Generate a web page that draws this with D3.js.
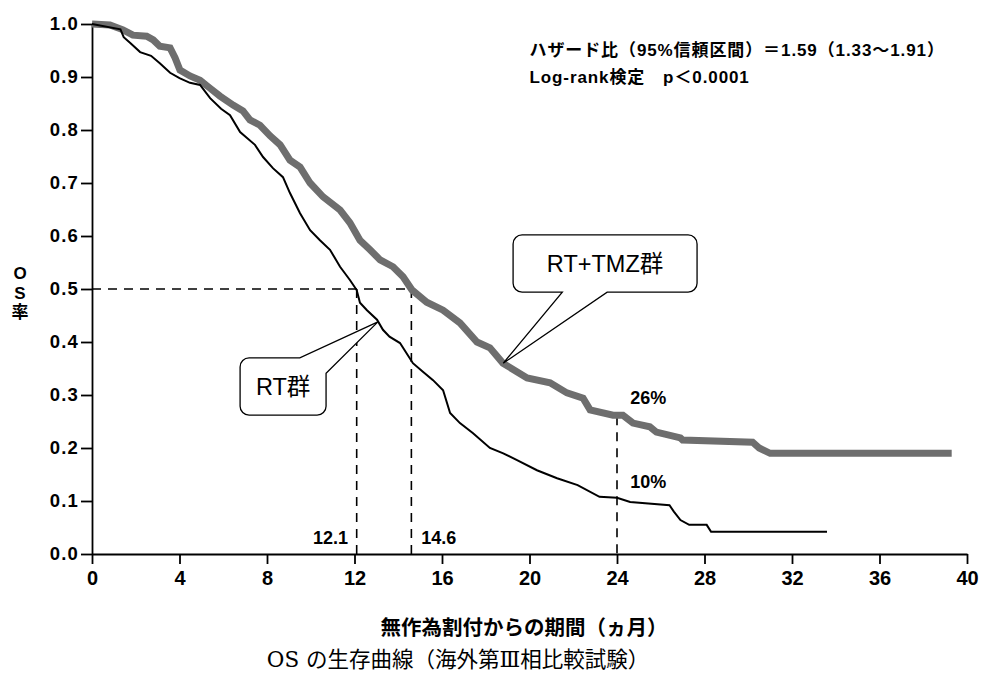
<!DOCTYPE html>
<html>
<head>
<meta charset="utf-8">
<script src="https://cdn.jsdelivr.net/npm/d3@7"></script>
<style>
  body { margin: 0; background: #fff; }
  svg { display: block; }
  .jp { font-family: "Liberation Sans", "Noto Sans CJK JP", sans-serif; font-weight: bold; }
</style>
</head>
<body>
<div id="chart"></div>
<script>
// Kaplan-Meier curves (months, survival)
const rtMonths = [0, 1.3, 1.45, 1.75, 2.2, 2.7, 3.1, 3.57, 4.0, 4.48, 4.94, 5.4, 5.9, 6.31, 6.77, 7.45, 7.82, 8.27, 8.73, 9.05, 9.51, 9.97, 10.42, 10.88, 11.34, 11.79, 12.1, 12.25, 12.57, 13.03, 13.3, 13.6, 14.08, 14.67, 15.1, 15.59, 16.05, 16.37, 16.82, 17.42, 18.19, 18.8, 19.43, 20.34, 21.26, 22.2, 23.2, 24.0, 24.6, 26.4, 26.6, 26.9, 27.3, 28.1, 28.3, 33.6]
const rtSurv = [1.0, 0.99, 0.975, 0.964, 0.947, 0.94, 0.926, 0.908, 0.898, 0.889, 0.885, 0.86, 0.84, 0.828, 0.796, 0.772, 0.749, 0.728, 0.711, 0.681, 0.643, 0.611, 0.592, 0.574, 0.542, 0.517, 0.498, 0.474, 0.46, 0.442, 0.423, 0.41, 0.398, 0.36, 0.345, 0.328, 0.309, 0.266, 0.247, 0.228, 0.2, 0.19, 0.177, 0.158, 0.143, 0.13, 0.108, 0.106, 0.098, 0.092, 0.08, 0.064, 0.055, 0.055, 0.042, 0.042]

const tmzMonths = [0, 0.82, 1.42, 1.87, 2.5, 2.8, 3.1, 3.57, 3.8, 4.02, 4.48, 4.94, 5.39, 5.85, 6.45, 6.9, 7.22, 7.68, 8.14, 8.6, 9.05, 9.51, 9.97, 10.56, 11.34, 11.79, 12.25, 12.71, 13.17, 13.76, 14.22, 14.63, 15.3, 16.05, 16.82, 17.6, 18.19, 18.79, 19.89, 20.94, 21.71, 22.45, 22.77, 23.82, 24.27, 24.73, 25.5, 25.8, 26.9, 27.0, 30.2, 30.5, 31.0, 39.3]
const tmzSurv = [1.0, 0.998, 0.989, 0.979, 0.977, 0.97, 0.958, 0.955, 0.936, 0.913, 0.902, 0.894, 0.879, 0.864, 0.847, 0.836, 0.819, 0.809, 0.789, 0.772, 0.743, 0.73, 0.7, 0.674, 0.649, 0.625, 0.592, 0.574, 0.555, 0.542, 0.523, 0.498, 0.475, 0.46, 0.436, 0.4, 0.389, 0.36, 0.332, 0.323, 0.304, 0.294, 0.272, 0.262, 0.262, 0.247, 0.24, 0.23, 0.219, 0.215, 0.211, 0.2, 0.19, 0.19]

const xTicks = [0, 4, 8, 12, 16, 20, 24, 28, 32, 36, 40]
const yTicks = [0, 0.1, 0.2, 0.3, 0.4, 0.5, 0.6, 0.7, 0.8, 0.9, 1.0]

// medians and 2-year rates
const medians = [12.1, 14.6]
const twoYear = { month: 24, tmz: 0.26, rt: 0.10 }

const statLines = ["ハザード比（95%信頼区間）＝1.59（1.33〜1.91）", "Log-rank検定　p＜0.0001"]

const width = 982, height = 677
const svg = d3.select("#chart").append("svg")
    .attr("width", width)
    .attr("height", height)

const x = d3.scaleLinear().domain([0, 40]).range([92, 967])
const y = d3.scaleLinear().domain([0, 1]).range([554, 24])

// axes
const yAxis = svg.append("g")
    .attr("transform", `translate(${x(0)},0)`)
    .call(d3.axisLeft(y).tickValues(yTicks).tickFormat(d3.format(".1f")).tickSize(11).tickSizeOuter(0).tickPadding(2))
yAxis.selectAll("text")
    .attr("font-family", "Liberation Sans, Arial, sans-serif")
    .attr("font-weight", "bold")
    .attr("font-size", 18.5)
    .attr("letter-spacing", 1.2)
    .attr("fill", "#000")

const xAxis = svg.append("g")
    .attr("transform", `translate(0,${y(0)})`)
    .call(d3.axisBottom(x).tickValues(xTicks).tickSize(10).tickSizeOuter(0).tickPadding(7))
xAxis.selectAll("text")
    .attr("font-family", "Liberation Sans, Arial, sans-serif")
    .attr("font-weight", "bold")
    .attr("font-size", 20)
    .attr("fill", "#000")

svg.selectAll(".domain, .tick line")
    .attr("stroke", "#000")
    .attr("stroke-width", 1.8)

// dashed guide lines
const dash = svg.append("g")
    .attr("stroke", "#000")
    .attr("stroke-width", 1.6)
    .attr("stroke-dasharray", "9,7")
    .attr("fill", "none")

dash.append("line")
    .attr("x1", x(0)).attr("x2", x(medians[1]))
    .attr("y1", y(0.5)).attr("y2", y(0.5))

dash.selectAll(".med")
    .data(medians)
    .enter()
    .append("line")
    .attr("x1", d => x(d)).attr("x2", d => x(d))
    .attr("y1", y(0.5)).attr("y2", y(0))

dash.append("line")
    .attr("x1", x(twoYear.month)).attr("x2", x(twoYear.month))
    .attr("y1", y(twoYear.tmz)).attr("y2", y(0))

// curves
const line = d3.line()
    .x(d => x(d[0]))
    .y(d => y(d[1]))

svg.append("path")
    .datum(d3.zip(tmzMonths, tmzSurv))
    .attr("d", line)
    .attr("fill", "none")
    .attr("stroke", "#6e6e6e")
    .attr("stroke-width", 7)

svg.append("path")
    .datum(d3.zip(rtMonths, rtSurv))
    .attr("d", line)
    .attr("fill", "none")
    .attr("stroke", "#000")
    .attr("stroke-width", 2)

// callout boxes with pointer
const callout = (p) => {
    const x0 = x(p.box[0]), x1 = x(p.box[1]), y0 = y(p.box[2]), y1 = y(p.box[3])
    const tx = x(p.tip[0]), ty = y(p.tip[1])
    const r = 9
    let d
    if (p.side === "bottom") {
        const b1 = x(p.base[0]), b2 = x(p.base[1])
        d = `M${x0 + r},${y0} H${x1 - r} A${r},${r} 0 0 1 ${x1},${y0 + r} V${y1 - r} A${r},${r} 0 0 1 ${x1 - r},${y1} H${b2} L${tx},${ty} L${b1},${y1} H${x0 + r} A${r},${r} 0 0 1 ${x0},${y1 - r} V${y0 + r} A${r},${r} 0 0 1 ${x0 + r},${y0} Z`
    } else {
        const bx = x(p.base[0]), by = y(p.base[1])
        d = `M${x0 + r},${y0} H${bx} L${tx},${ty} L${x1},${by} V${y1 - r} A${r},${r} 0 0 1 ${x1 - r},${y1} H${x0 + r} A${r},${r} 0 0 1 ${x0},${y1 - r} V${y0 + r} A${r},${r} 0 0 1 ${x0 + r},${y0} Z`
    }
    svg.append("path")
        .attr("d", d)
        .attr("fill", "#fff")
        .attr("stroke", "#000")
        .attr("stroke-width", 1.3)
    svg.append("text")
        .attr("x", (x0 + x1) / 2)
        .attr("y", (y0 + y1) / 2 + 8)
        .attr("text-anchor", "middle")
        .attr("font-family", "Liberation Sans, Noto Sans CJK JP, sans-serif")
        .attr("font-size", 23.5)
        .text(p.label)
}

callout({ label: "RT+TMZ群", box: [19.25, 27.66, 0.602, 0.494], side: "bottom", base: [21.5, 23.55], tip: [18.8, 0.36] })
callout({ label: "RT群", box: [6.77, 10.7, 0.37, 0.262], side: "corner", base: [9.5, 0.341], tip: [13.07, 0.438] })

// value labels
const lbl = (txt, mx, sy, anchor) => svg.append("text")
    .attr("x", x(mx)).attr("y", y(sy))
    .attr("text-anchor", anchor)
    .attr("dy", "0.35em")
    .attr("font-family", "Liberation Sans, Arial, sans-serif")
    .attr("font-weight", "bold")
    .attr("font-size", 18)
    .text(txt)

lbl(medians[0].toFixed(1), medians[0] - 0.4, 0.03, "end")
lbl(medians[1].toFixed(1), medians[1] + 0.45, 0.03, "start")
lbl(Math.round(twoYear.tmz * 100) + "%", twoYear.month + 0.6, 0.295, "start")
lbl(Math.round(twoYear.rt * 100) + "%", twoYear.month + 0.6, 0.136, "start")

// statistics text
svg.selectAll(".stat")
    .data(statLines)
    .enter()
    .append("text")
    .attr("class", "jp")
    .attr("x", x(20))
    .attr("y", (d, i) => 56 + i * 27)
    .attr("font-size", 17)
    .attr("letter-spacing", 0.9)
    .text(d => d)

// axis titles
svg.append("g")
    .attr("class", "jp")
    .attr("font-size", 17)
    .attr("text-anchor", "middle")
    .selectAll("text")
    .data(["O", "S", "率"])
    .enter()
    .append("text")
    .attr("x", 20)
    .attr("y", (d, i) => 279 + i * 19.5)
    .text(d => d)

svg.append("text")
    .attr("class", "jp")
    .attr("x", 524)
    .attr("y", 635)
    .attr("text-anchor", "middle")
    .attr("font-size", 20.5)
    .text("無作為割付からの期間（ヵ月）")

svg.append("text")
    .attr("x", 458)
    .attr("y", 667)
    .attr("text-anchor", "middle")
    .attr("font-family", "DejaVu Serif, Noto Sans CJK JP, serif")
    .attr("font-size", 21.5)
    .text("OS の生存曲線（海外第Ⅲ相比較試験）")
</script>
</body>
</html>
